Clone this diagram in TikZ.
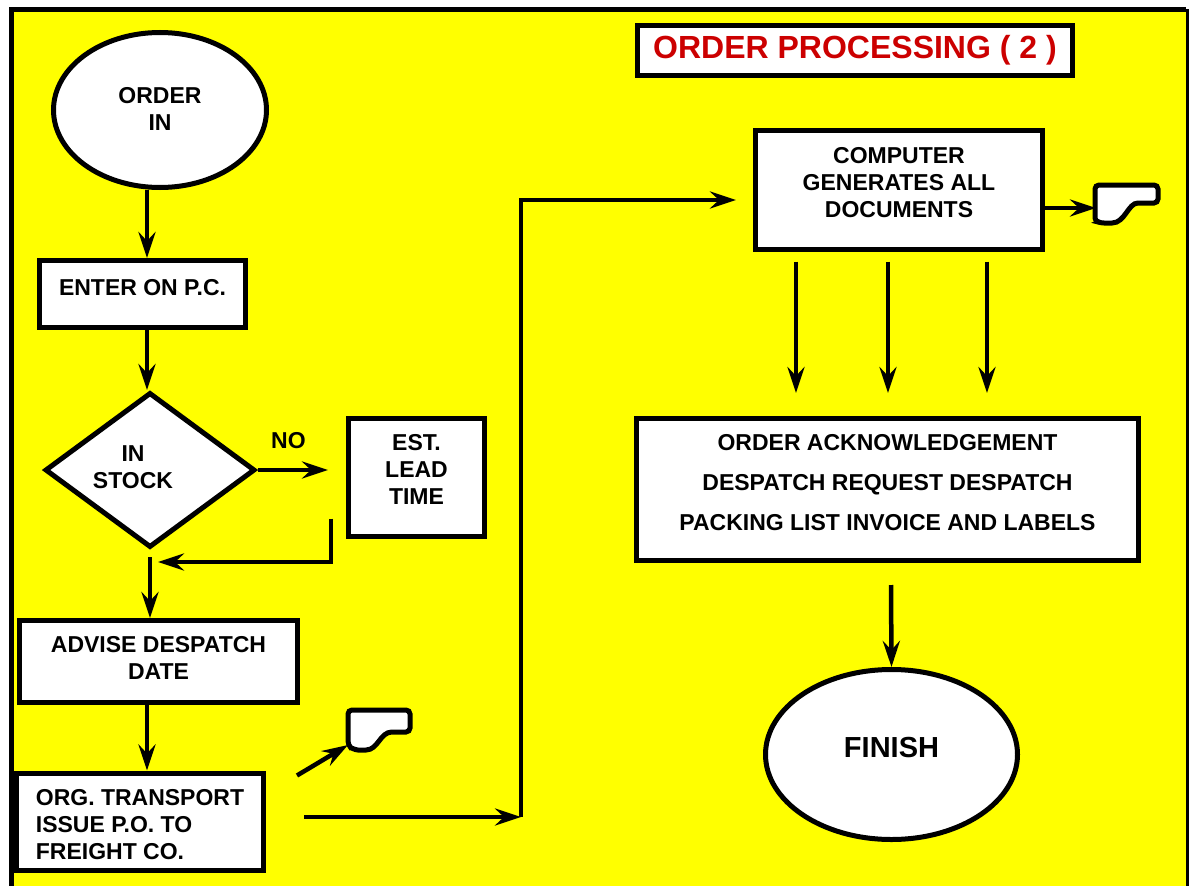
\documentclass[tikz,border=0pt]{standalone}
\usepackage{fontspec}
\setmainfont{Liberation Sans}
\usetikzlibrary{arrows.meta,shapes.geometric}
\definecolor{bgyellow}{HTML}{FFFF00}
\definecolor{titlered}{HTML}{CC0000}

\begin{document}
\begin{tikzpicture}[x=1pt, y=-1pt,
  box/.style={draw=black, fill=white, line width=5pt, inner sep=0pt, align=center, font=\bfseries\fontsize{23}{27}\selectfont},
  oval/.style={box, ellipse},
  arr/.style={-{Stealth[length=26pt,width=17pt,inset=9pt]}, line width=4.5pt},
  lbl/.style={inner sep=0pt, font=\bfseries\fontsize{23}{27}\selectfont},
  docsym/.style={draw=black, fill=white, line width=5pt, rounded corners=4pt}]

\useasboundingbox (0,0) rectangle (1189,886);
\fill[bgyellow] (11,9) rectangle (1189,886);
\draw[line width=5pt] (11,886) -- (11,9.5) -- (1186,9.5);
\draw[line width=2.5pt] (1187.5,9) -- (1187.5,886);

\node[box, minimum width=435, minimum height=50, text=titlered, font=\bfseries\fontsize{32}{36}\selectfont] at (855,50) (title)
  {ORDER PROCESSING ( 2 )};

\node[oval, minimum width=213, minimum height=155, text depth=3pt] at (160,110) (orderin) {ORDER\\IN};
\node[box, minimum width=206, minimum height=67, text depth=14pt] at (142.5,294) (enter) {ENTER ON P.C.};
\node[box, diamond, aspect=1.35, minimum width=210, minimum height=155] at (150,470) (stock)
  {\begin{tabular}{@{}c@{\hspace{34pt}}}IN\\STOCK\end{tabular}};
\node[box, minimum width=136, minimum height=118, text depth=16pt] at (416.5,477.5) (est) {EST.\\LEAD\\TIME};
\node[box, minimum width=278, minimum height=82, text depth=8pt] at (158.5,661.5) (advise) {ADVISE DESPATCH\\DATE};
\node[box, align=left, minimum width=247, minimum height=97, text height=76pt] at (140,821.5) (org)
  {ORG. TRANSPORT\\ISSUE P.O. TO\\FREIGHT CO.};

\node[box, minimum width=287, minimum height=119, text depth=14pt] at (899,189.5) (computer)
  {COMPUTER\\GENERATES ALL\\DOCUMENTS};
\node[box, minimum width=502, minimum height=142, text depth=14pt, font=\bfseries\fontsize{23}{40}\selectfont] at (887.5,489.5) (docs)
  {ORDER ACKNOWLEDGEMENT\\DESPATCH REQUEST DESPATCH\\PACKING LIST INVOICE AND LABELS};
\node[oval, minimum width=252, minimum height=170, text depth=14pt, font=\bfseries\fontsize{29}{33}\selectfont] at (891.5,754.5) (finish) {FINISH};

\draw[docsym] (348,710) -- (410,710) -- (410,732) -- (396,732) .. controls (380,732) and (378,750) .. (362,750)
  .. controls (355,750) and (350,747) .. (348,745) -- cycle;
\draw[docsym] (1095,185) -- (1158,185) -- (1158,203) -- (1142,203) .. controls (1128,203) and (1125,223) .. (1108,223)
  .. controls (1102,223) and (1097,222) .. (1095,222) -- cycle;
\coordinate (doc1) at (348,745);
\coordinate (doc2) at (1096,208);
\coordinate (turn) at (521,817);

\draw[arr] ([xshift=-13pt]orderin.south) -- ([xshift=4.5pt]enter.north);
\draw[arr] ([xshift=4.5pt]enter.south) -- ([xshift=-3pt]stock.north);
\draw[arr, shorten >=18pt] (stock.east) -- (stock.east -| est.west)
  node[lbl, pos=0.35, above=19pt] {NO};
\draw[arr] ([xshift=-15pt, yshift=-41pt]est.west) |- ([xshift=8pt, yshift=-12pt]stock.south);
\draw[arr] ([yshift=-7pt]stock.south) -- (stock.south |- advise.north);
\draw[arr] ([xshift=-11.5pt]advise.south) -- ([xshift=7pt]org.north);
\draw[arr] ([xshift=31pt, yshift=-5pt]org.north east) -- (doc1);
\draw[arr] ([xshift=38pt, yshift=4.5pt]org.east) -- (turn);
\draw[arr] (turn) |- ([xshift=-17pt, yshift=-10.5pt]computer.west);
\draw[arr] ([yshift=-18.5pt]computer.east) -- (doc2);
\foreach \dx in {-103,-11,88}
  \draw[arr] ([xshift=\dx pt, yshift=-10pt]computer.south) -- ([xshift=\dx pt + 11.5pt, yshift=23pt]docs.north);
\draw[arr] ([xshift=3.5pt, yshift=-22pt]docs.south) -- (finish.north);
\end{tikzpicture}
\end{document}
